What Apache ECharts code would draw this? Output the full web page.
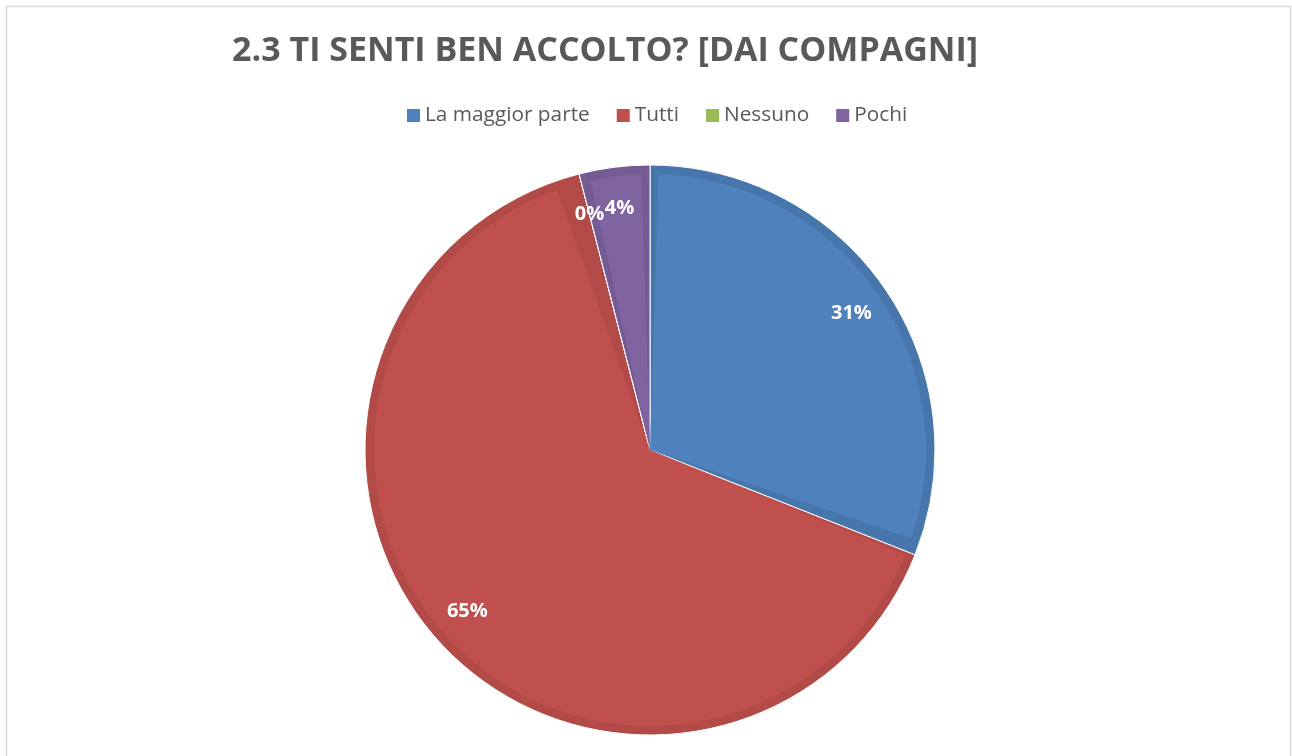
<!DOCTYPE html>
<html>
<head>
<meta charset="utf-8">
<title>2.3 TI SENTI BEN ACCOLTO? [DAI COMPAGNI]</title>
<script src="https://cdn.jsdelivr.net/npm/echarts@6/dist/echarts.min.js"></script>
<style>
  html, body { margin: 0; padding: 0; background: #ffffff; }
  #chart { width: 1292px; height: 756px; }
</style>
</head>
<body>
<div id="chart"></div>
<script>
// Answers to question 2.3 (share of classmates who make the pupil feel welcome)
const titleText = '2.3 TI SENTI BEN ACCOLTO? [DAI COMPAGNI]';
const categories = ['La maggior parte', 'Tutti', 'Nessuno', 'Pochi'];
const percentages = [31, 65, 0, 4];

// Office-style palette: face colour and the slightly darker rim of each slice
const faceColors = ['#4f81bd', '#c0504d', '#9bbb59', '#8064a2'];
const rimColors = ['#4776ad', '#b24a47', '#8cab4f', '#745b94'];

const FONT = '"Open Sans", "Noto Sans", sans-serif';
const CENTER = [650, 450];
const R = 285;

const makeData = (colors) => categories.map((name, i) => ({
  name,
  value: percentages[i],
  itemStyle: { color: colors[i] }
}));

const chart = echarts.init(document.getElementById('chart'), null, { renderer: 'canvas' });

chart.setOption({
  animation: false,
  backgroundColor: '#ffffff',
  title: {
    text: titleText,
    left: 600,
    textAlign: 'center',
    top: 29,
    textStyle: { fontFamily: FONT, fontWeight: 'bold', fontSize: 34, color: '#595959' }
  },
  legend: {
    data: categories,
    left: 402,
    top: 100,
    icon: 'rect',
    itemWidth: 13,
    itemHeight: 13,
    itemGap: 27,
    textStyle: { fontFamily: FONT, fontSize: 20.8, color: '#595959' }
  },
  graphic: [{
    type: 'rect',
    silent: true,
    z: -10,
    shape: { x: 6.5, y: 6.5, width: 1284, height: 820 },
    style: { fill: 'none', stroke: '#d9d9d9', lineWidth: 1.5 }
  }],
  series: [
    {
      // lighter face of each slice, inset from the rim
      type: 'pie',
      name: 'face',
      z: 3,
      silent: true,
      center: CENTER,
      radius: [0, R - 9],
      startAngle: 90,
      clockwise: true,
      padAngle: 3.6,
      label: { show: false },
      labelLine: { show: false },
      data: makeData(faceColors)
    },
    {
      // full slices in the rim colour
      type: 'pie',
      name: 'rim',
      z: 2,
      silent: true,
      center: CENTER,
      radius: [0, R],
      startAngle: 90,
      clockwise: true,
      itemStyle: { borderColor: '#ffffff', borderWidth: 1 },
      label: { show: false },
      labelLine: { show: false },
      data: makeData(rimColors)
    },
    {
      // percentage labels on a transparent ring
      type: 'pie',
      name: 'labels',
      z: 4,
      silent: true,
      center: CENTER,
      radius: [196, R],
      startAngle: 90,
      clockwise: true,
      itemStyle: { color: 'transparent' },
      label: {
        show: true,
        position: 'inside',
        formatter: (p) => p.value + '%',
        fontFamily: FONT,
        fontWeight: 'bold',
        fontSize: 20,
        color: '#ffffff'
      },
      labelLine: { show: false },
      data: categories.map((name, i) => ({ name, value: percentages[i] }))
    }
  ]
});
</script>
</body>
</html>
